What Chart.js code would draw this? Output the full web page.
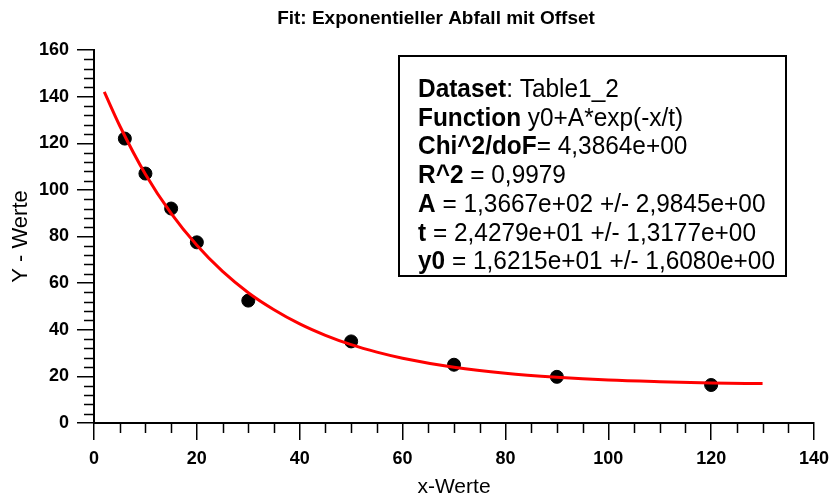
<!DOCTYPE html>
<html>
<head>
<meta charset="utf-8">
<script src="https://cdn.jsdelivr.net/npm/chart.js@4.4.1/dist/chart.umd.min.js"></script>
<style>
  body { margin: 0; background: #fff; }
  #wrap { width: 830px; height: 500px; }
</style>
</head>
<body>
<div id="wrap"><canvas id="myChart" width="830" height="500"></canvas></div>
<script>
// measured points
var xData = [6, 10, 15, 20, 30, 50, 70, 90, 120];
var yData = [122, 107, 92, 77.5, 52.5, 35, 25, 19.8, 16.3];

// fit curve
var xFit = [2, 5, 10, 15, 20, 25, 30, 35, 40, 45, 50, 55, 60, 70, 80, 90, 100, 110, 120, 130];
var yFit = [142, 127.5, 106.7, 89.9, 76.2, 65, 55.9, 48.6, 42.5, 37.6, 33.6, 30.4, 27.8, 23.9, 21.3, 19.6, 18.4, 17.7, 17.2, 16.9];

var xTicks = [0, 20, 40, 60, 80, 100, 120, 140];
var yTicks = [0, 20, 40, 60, 80, 100, 120, 140, 160];

var title = "Fit: Exponentieller Abfall mit Offset";
var boxLines = [
  ["Dataset", ": Table1_2"],
  ["Function", " y0+A*exp(-x/t)"],
  ["Chi^2/doF", "= 4,3864e+00"],
  ["R^2", " = 0,9979"],
  ["A", " = 1,3667e+02 +/- 2,9845e+00"],
  ["t", " = 2,4279e+01 +/- 1,3177e+00"],
  ["y0", " = 1,6215e+01 +/- 1,6080e+00"]
];

var FONT = "'Liberation Sans', Arial, sans-serif";

var pts = xData.map(function (x, i) { return { x: x, y: yData[i] }; });
var fit = xFit.map(function (x, i) { return { x: x, y: yFit[i] }; });

// minor ticks, title text and the result box
var extras = {
  id: "extras",
  afterDraw: function (chart) {
    var ctx = chart.ctx;
    var xs = chart.scales.x, ys = chart.scales.y;
    var area = chart.chartArea;
    ctx.save();
    ctx.strokeStyle = "#000";
    ctx.lineWidth = 1.5;
    ctx.beginPath();
    for (var v = 0; v <= 140; v += 5) {
      if (v % 20 === 0) continue;
      var px = Math.round(xs.getPixelForValue(v)) + 0.5;
      ctx.moveTo(px, area.bottom);
      ctx.lineTo(px, area.bottom + 10);
    }
    for (var w = 0; w <= 160; w += 4) {
      if (w % 20 === 0) continue;
      var py = Math.round(ys.getPixelForValue(w)) + 0.5;
      ctx.moveTo(area.left, py);
      ctx.lineTo(area.left - 10, py);
    }
    ctx.stroke();

    // title
    ctx.fillStyle = "#000";
    ctx.font = "bold 19px " + FONT;
    ctx.textAlign = "center";
    ctx.textBaseline = "middle";
    ctx.fillText(title, 436, 19);

    // result box
    ctx.lineWidth = 2;
    ctx.strokeRect(399, 56, 387, 220);
    ctx.textAlign = "left";
    ctx.textBaseline = "alphabetic";
    var size = 25;
    var widest = 0;
    boxLines.forEach(function (l) {
      ctx.font = "bold " + size + "px " + FONT;
      var w1 = ctx.measureText(l[0]).width;
      ctx.font = size + "px " + FONT;
      var w2 = ctx.measureText(l[1]).width;
      widest = Math.max(widest, w1 + w2);
    });
    var sx = Math.min(1, 357 / widest);
    boxLines.forEach(function (l, i) {
      var y = 97 + i * 28.7;
      ctx.save();
      ctx.translate(418, y);
      ctx.scale(sx, 1);
      ctx.font = "bold " + size + "px " + FONT;
      ctx.fillText(l[0], 0, 0);
      var w1 = ctx.measureText(l[0]).width;
      ctx.font = size + "px " + FONT;
      ctx.fillText(l[1], w1, 0);
      ctx.restore();
    });
    ctx.restore();
  }
};

new Chart("myChart", {
  type: "scatter",
  data: {
    datasets: [{
      type: "line",
      data: fit,
      borderColor: "#ff0000",
      borderWidth: 3,
      pointRadius: 0,
      cubicInterpolationMode: "monotone",
      fill: false
    }, {
      data: pts,
      backgroundColor: "#000",
      borderColor: "#000",
      pointRadius: 6.5,
      pointHoverRadius: 6.5
    }]
  },
  options: {
    responsive: false,
    animation: false,
    events: [],
    layout: { padding: { top: 50, right: 0, left: 0, bottom: 0 } },
    plugins: {
      legend: { display: false },
      title: { display: false },
      tooltip: { enabled: false }
    },
    scales: {
      x: {
        type: "linear",
        min: 0,
        max: 140,
        afterBuildTicks: function (s) { s.ticks = xTicks.map(function (v) { return { value: v }; }); },
        afterFit: function (s) { s.height = 77; s.paddingRight = 16; },
        ticks: { color: "#000", padding: 8, font: { family: FONT, size: 18, weight: "bold" } },
        grid: { drawOnChartArea: false, tickLength: 17, color: "#000", lineWidth: 1.5 },
        border: { color: "#000", width: 2 },
        title: { display: true, text: "x-Werte", color: "#000", padding: { top: 0, bottom: 0 }, font: { family: FONT, size: 21 } }
      },
      y: {
        min: 0,
        max: 160,
        afterBuildTicks: function (s) { s.ticks = yTicks.map(function (v) { return { value: v }; }); },
        afterFit: function (s) { s.width = 94; },
        ticks: { color: "#000", padding: 8, font: { family: FONT, size: 18, weight: "bold" } },
        grid: { drawOnChartArea: false, tickLength: 17, color: "#000", lineWidth: 1.5 },
        border: { color: "#000", width: 2 },
        title: { display: true, text: "Y - Werte", color: "#000", padding: { top: 8, bottom: 0 }, font: { family: FONT, size: 22 } }
      }
    }
  },
  plugins: [extras]
});
</script>
</body>
</html>
